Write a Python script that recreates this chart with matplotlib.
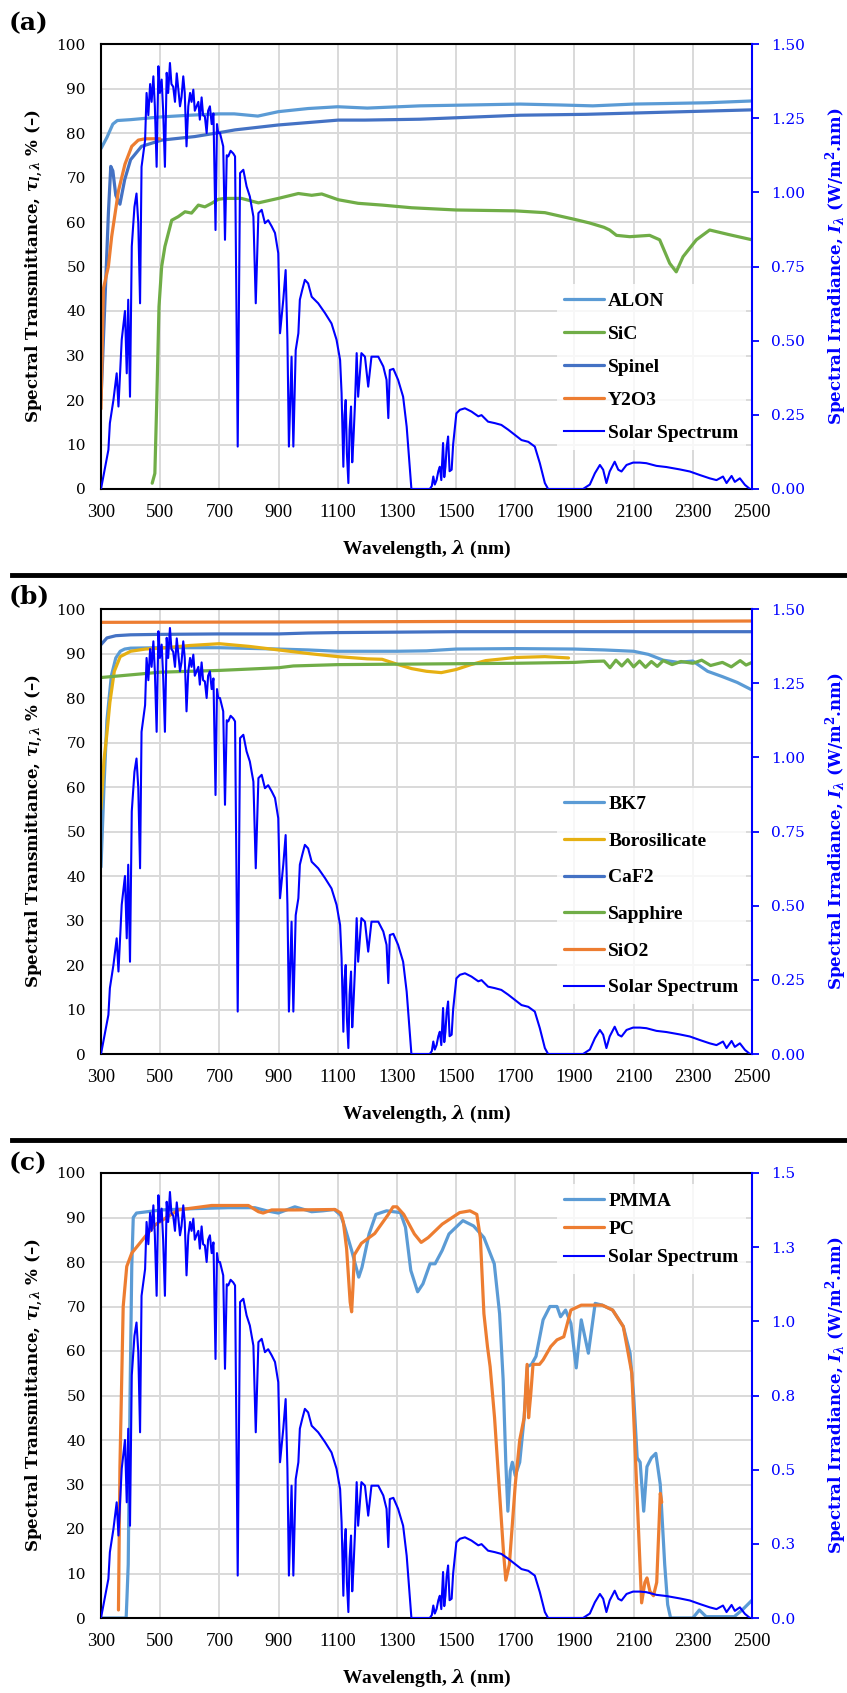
import math
import numpy as np
import matplotlib
matplotlib.use("Agg")
import matplotlib.pyplot as plt
from matplotlib.lines import Line2D
from matplotlib.ticker import FuncFormatter

plt.rcParams['mathtext.fontset'] = 'custom'
plt.rcParams['mathtext.rm'] = 'DejaVu Serif:bold'
plt.rcParams['mathtext.it'] = 'DejaVu Serif:italic:bold'
plt.rcParams['mathtext.bf'] = 'DejaVu Serif:bold'

# solar spectrum (nm, W/m2.nm)
solar_wl = [300, 325, 330, 342, 353, 359, 370, 381, 387, 392, 398, 404, 413, 420, 426, 432, 437, 449,
            454, 460, 466, 471, 477, 482, 488, 494, 499, 505, 510, 516, 522, 527, 533, 538, 544, 550,
            556, 561, 567, 572, 578, 583, 589, 595, 601, 606, 612, 617, 623, 629, 634,
            640, 645, 651, 657, 662, 668, 674, 680, 687, 692, 696, 702, 708, 713, 719, 725, 730, 738,
            747, 753, 762, 770, 781, 792, 803, 815,
            823, 832, 843, 854, 865, 877, 888, 899, 905, 916, 924, 930, 935, 944, 950, 958, 967, 972,
            980, 989, 1000, 1012, 1034, 1057, 1079, 1096, 1108, 1113, 1119, 1123, 1127, 1131, 1136, 1140,
            1145, 1149, 1153, 1158,
            1164, 1169, 1180, 1192, 1203, 1214, 1237, 1254, 1265, 1271, 1276, 1288, 1304, 1321, 1333,
            1338, 1349, 1411, 1418, 1423, 1428, 1434, 1440, 1445, 1450, 1456, 1460, 1464, 1468, 1473,
            1478, 1485, 1490, 1494, 1501, 1513, 1530, 1552,
            1575, 1586, 1608, 1631, 1653, 1676, 1699, 1721, 1744, 1766, 1783, 1800, 1811, 1929, 1952,
            1969, 1986, 1997, 2008, 2019, 2036, 2048, 2059, 2076, 2098, 2121, 2143, 2177, 2211, 2256,
            2290, 2324, 2357, 2380, 2402, 2414, 2431, 2442, 2459, 2476, 2493, 2500]
solar_irr = [0.0, 0.132, 0.222, 0.300, 0.390, 0.278, 0.503, 0.600, 0.390, 0.638, 0.311, 0.818, 0.951,
             0.996, 0.896, 0.626, 1.086, 1.176,
             1.335, 1.260, 1.365, 1.305, 1.391, 1.290, 1.086, 1.425, 1.335, 1.380, 1.275, 1.086, 1.403,
             1.335, 1.436, 1.365, 1.356, 1.305, 1.401, 1.350, 1.290, 1.320, 1.391, 1.335, 1.155, 1.290,
             1.335, 1.305, 1.346, 1.275, 1.290, 1.305, 1.245,
             1.320, 1.260, 1.256, 1.200, 1.275, 1.290, 1.230, 1.266, 0.873, 1.230, 1.200, 1.200, 1.176,
             1.155, 0.840, 1.125, 1.121, 1.140,
             1.131, 1.121, 0.143, 1.065, 1.076, 1.020,
             0.986, 0.918, 0.626, 0.930, 0.941, 0.896, 0.906, 0.885, 0.863, 0.795, 0.525, 0.638, 0.738,
             0.503, 0.143, 0.446, 0.143, 0.468, 0.525, 0.638, 0.671, 0.705, 0.693, 0.648, 0.626, 0.593,
             0.558, 0.503, 0.435, 0.323, 0.075, 0.250, 0.300, 0.120, 0.020, 0.200, 0.278, 0.090,
             0.165, 0.280,
             0.458, 0.311, 0.458, 0.446,
             0.345, 0.446, 0.446, 0.413, 0.368, 0.239, 0.401, 0.405, 0.368, 0.311, 0.210, 0.143, 0.0,
             0.0, 0.010, 0.042, 0.015, 0.030, 0.060, 0.075, 0.030, 0.155, 0.040, 0.075, 0.140, 0.177,
             0.060, 0.065, 0.150, 0.188, 0.255, 0.267, 0.272, 0.261,
             0.245, 0.249, 0.227, 0.222, 0.216, 0.200, 0.182, 0.165, 0.159, 0.143, 0.087, 0.020, 0.0,
             0.0, 0.015, 0.053, 0.081, 0.065, 0.020, 0.059, 0.092, 0.065, 0.059, 0.081, 0.089, 0.089,
             0.087, 0.078, 0.074, 0.066, 0.059, 0.047, 0.036, 0.030, 0.042, 0.020, 0.044, 0.024, 0.036,
             0.014, 0.0, 0.0]

# (a) ceramics
alon_wl = [300, 320, 340, 355, 400, 500, 600, 700, 750, 830, 900, 1000, 1100, 1200, 1378, 1550, 1716,
           1850, 1962, 2100, 2189, 2350, 2500]
alon_t = [76.5, 79, 82, 82.8, 83, 83.6, 84, 84.3, 84.3, 83.8, 84.8, 85.5, 85.9, 85.6, 86.1, 86.3, 86.5,
          86.3, 86.1, 86.5, 86.6, 86.8, 87.2]
sic_wl = [473, 482, 488, 496, 505, 516, 539, 561, 584, 606, 629, 651, 674, 696, 719, 775, 832, 899, 967,
          1012, 1046, 1102, 1169, 1250, 1350, 1500, 1600, 1700, 1800, 1900, 1950, 2000, 2019, 2042, 2087,
          2154, 2188, 2222, 2244, 2267, 2312, 2357, 2420, 2500]
sic_t = [1.3, 3.5, 18.5, 41, 50, 54.5, 60.4, 61.2, 62.3, 62, 63.8, 63.4, 64.2, 65.1, 65.3, 65.3, 64.3,
         65.3, 66.4, 66, 66.3, 65, 64.2, 63.8, 63.2, 62.7, 62.6, 62.5, 62.1, 60.6, 59.8, 58.8, 58.2, 57,
         56.7, 57, 56, 50.7, 48.8, 52.2, 56, 58.2, 57.2, 56]
spinel_wl = [300, 315, 325, 333, 340, 350, 364, 380, 400, 437, 505, 617, 719, 753, 899, 1102, 1192, 1378,
             1716, 1940, 2500]
spinel_t = [20, 45, 62, 72.5, 71.5, 66, 64, 69.5, 74, 77, 78.4, 79.2, 80.3, 80.7, 81.8, 82.9, 82.9, 83.1,
            84, 84.2, 85.2]
y2o3_wl = [300, 308, 325, 336, 359, 381, 404, 426, 449, 499]
y2o3_t = [18, 45, 50, 56.7, 67, 73, 77, 78.4, 78.7, 78.7]

# (b) glasses / crystals
bk7_wl = [300, 310, 320, 335, 350, 365, 380, 400, 500, 700, 900, 1000, 1100, 1300, 1400, 1500, 1700, 1900,
          2000, 2100, 2150, 2200, 2250, 2300, 2350, 2400, 2450, 2500]
bk7_t = [42, 60, 75, 85, 89, 90.5, 91, 91.2, 91.3, 91.3, 91.0, 90.8, 90.5, 90.5, 90.6, 91, 91.1, 91, 90.8,
         90.5, 89.8, 88.5, 88.0, 88.3, 86, 84.8, 83.5, 81.8]
boro_wl = [300, 310, 320, 330, 345, 365, 400, 450, 500, 600, 700, 800, 900, 1000, 1100, 1200, 1250, 1300,
           1350, 1400, 1450, 1500, 1550, 1600, 1700, 1800, 1880]
boro_t = [55, 66, 72, 79, 86, 89.3, 90.5, 91, 91.2, 91.8, 92.2, 91.6, 90.8, 90, 89.3, 88.8, 88.7, 87.6,
          86.6, 86, 85.7, 86.4, 87.5, 88.4, 89.1, 89.3, 89]
caf2_wl = [300, 320, 350, 400, 500, 700, 900, 1000, 1100, 1300, 1500, 2000, 2500]
caf2_t = [92, 93.5, 94, 94.2, 94.3, 94.4, 94.4, 94.6, 94.7, 94.8, 94.9, 94.9, 94.9]
sapph_wl = [300, 400, 500, 600, 700, 800, 900, 950, 1000, 1100, 1300, 1500, 1700, 1900, 1950, 2000, 2020,
            2040, 2060, 2080, 2100, 2120, 2140, 2160, 2180, 2200, 2230, 2260, 2300, 2330, 2360, 2400, 2430,
            2460, 2480, 2500]
sapph_t = [84.6, 85.2, 85.8, 86.0, 86.2, 86.5, 86.8, 87.2, 87.3, 87.5, 87.6, 87.7, 87.8, 88.0, 88.2, 88.3,
           86.8, 88.5, 87.2, 88.6, 87.0, 88.3, 86.9, 88.2, 87.1, 88.4, 87.5, 88.2, 87.8, 88.5, 87.3, 88.0,
           87.0, 88.4, 87.4, 88.0]
sio2_wl = [300, 1000, 1500, 2000, 2500]
sio2_t = [97.0, 97.1, 97.2, 97.2, 97.3]

# (c) polymers
pmma_wl = [300, 385, 388, 392, 398, 404, 409, 420, 505, 618, 730, 820, 860, 899, 955, 1012, 1050, 1088,
           1110, 1124, 1147, 1171, 1182, 1206, 1229, 1265, 1312, 1329, 1347, 1370, 1388, 1412, 1429, 1453,
           1476, 1523, 1559, 1594, 1629, 1647, 1659, 1668, 1675, 1683, 1690, 1700, 1715, 1730, 1741, 1755,
           1770, 1794, 1817, 1841, 1853, 1870, 1888, 1906, 1923, 1947, 1970, 1994, 2029, 2065, 2088, 2100,
           2112, 2122, 2134, 2145, 2160, 2175, 2190, 2205, 2215, 2225, 2300, 2322, 2345, 2440, 2470, 2500]
pmma_t = [0, 0, 5, 12, 49, 79, 90, 91, 91.7, 92, 92.2, 92.2, 91.5, 91, 92.4, 91.3, 91.5, 91.8, 90.5, 87.8,
          82.6, 76.6, 78.8, 86.3, 90.7, 91.5, 91.1, 87.8, 78.1, 73.3, 75.1, 79.6, 79.6, 82.6, 86.3, 89.3,
          88.1, 85.5, 79.6, 68.4, 53.6, 35, 24, 33, 35, 32, 35, 45, 56.5, 57, 58.8, 67, 70, 70, 67.7, 69.2,
          66.2, 56.2, 67, 59.5, 70.7, 70.3, 69.2, 65.5, 59.5, 50, 36, 35, 24, 34, 36, 37, 30, 12, 3, 0, 0,
          1.8, 0.3, 0.3, 2, 4]
pc_wl = [359, 364, 375, 387, 404, 449, 482, 561, 674, 798, 815, 832, 848, 877, 955, 1091, 1110, 1119,
         1130, 1136, 1142, 1147, 1152, 1156, 1180, 1225, 1270, 1287, 1300, 1323, 1359, 1382, 1406, 1453,
         1512, 1547, 1570, 1582, 1594, 1606, 1615, 1630, 1645, 1660, 1668, 1680, 1700, 1715, 1730, 1740,
         1745, 1752, 1760, 1782, 1794, 1820, 1841, 1864, 1888, 1923, 1994, 2029, 2065, 2094, 2110, 2127,
         2138, 2145, 2155, 2167, 2178, 2190, 2195]
pc_t = [1.8, 34, 70, 79, 82, 85.7, 88.3, 91.7, 92.7, 92.7, 92, 91.3, 91, 91.7, 91.7, 91.8, 91, 89, 83, 77,
        71, 68.8, 75, 81.6, 84.2, 86.4, 90.6, 92.4, 92.4, 90.7, 86.3, 84.4, 85.5, 88.5, 91.1, 91.5, 90.7,
        85.5, 68.4, 61, 56.5, 45, 30, 15, 8.5, 12, 30, 40, 45, 57, 45, 50, 57, 57, 58, 61, 62.5, 63.2,
        69.2, 70.3, 70.3, 69.2, 65.5, 55, 30, 3.4, 8, 9, 6, 5, 8, 28, 26]

LBLUE = '#5B9BD5'
DBLUE = '#4472C4'
GREEN = '#70AD47'
ORANGE = '#ED7D31'
GOLD = '#E6B012'
SOLAR = '#0000FF'

W, H = 847, 1693
fig = plt.figure(figsize=(W / 100, H / 100), dpi=100)


def half_up(v, _):
    return f"{math.floor(v * 10 + 0.5) / 10:.1f}"


def panel(top_px, series, leg_top, leg_space, right_fmt, tag, tag_y):
    left, right, bottom = 101, 752, top_px + 445
    ax = fig.add_axes([left / W, 1 - bottom / H, (right - left) / W, 445 / H])
    ax2 = ax.twinx()
    for name, wl, t, col in series:
        ax.plot(wl, t, color=col, lw=2.3, label=name, solid_capstyle='round')
    ax2.plot(solar_wl, solar_irr, color=SOLAR, lw=1.5, label='Solar Spectrum')

    ax.set_xlim(300, 2500)
    ax.set_ylim(0, 100)
    ax.set_xticks(np.arange(300, 2501, 200))
    ax.set_yticks(np.arange(0, 101, 10))
    ax.grid(color='#D9D9D9', lw=1.4)
    ax.set_axisbelow(True)
    ax.tick_params(axis='both', length=0)
    ax.tick_params(axis='y', pad=11, labelsize=11)
    ax.tick_params(axis='x', pad=11)
    for lab in ax.get_yticklabels():
        lab.set_fontfamily('DejaVu Serif')
    for lab in ax.get_xticklabels():
        lab.set_fontfamily('Liberation Serif')
        lab.set_fontsize(13.5)
    for s in ['left', 'top', 'bottom']:
        ax.spines[s].set_color('black')
        ax.spines[s].set_linewidth(1.5)
    ax.spines['right'].set_visible(False)

    ax2.set_ylim(0, 1.5)
    ax2.set_yticks(np.arange(0, 1.51, 0.25))
    ax2.yaxis.set_major_formatter(right_fmt)
    ax2.tick_params(axis='y', colors=SOLAR, length=5, width=1.3, pad=9, labelsize=11)
    for lab in ax2.get_yticklabels():
        lab.set_fontfamily('DejaVu Serif')
    for s in ['left', 'top', 'bottom']:
        ax2.spines[s].set_visible(False)
    ax2.spines['right'].set_color(SOLAR)
    ax2.spines['right'].set_linewidth(1.5)

    ax.set_xlabel(r'Wavelength, $\lambda$ (nm)', fontfamily='Liberation Serif', fontweight='bold',
                  fontsize=14)
    ax.xaxis.set_label_coords(0.5, -0.112)
    ax.set_ylabel(r'Spectral Transmittance, $\tau_{l,\lambda}$ % (–)', fontfamily='DejaVu Serif',
                  fontweight='bold', fontsize=12)
    ax.yaxis.set_label_coords(-0.085, 0.5)
    ax2.set_ylabel(r'Spectral Irradiance, $I_{\lambda}$ (W/m$^{2}$.nm)', fontfamily='DejaVu Serif',
                   fontweight='bold', fontsize=12, color=SOLAR)
    ax2.yaxis.set_label_coords(1.109, 0.5)

    h1, l1 = ax.get_legend_handles_labels()
    h2, l2 = ax2.get_legend_handles_labels()
    leg = ax2.legend(h1 + h2, l1 + l2, loc='upper left',
                     bbox_to_anchor=(0.685, (bottom - leg_top) / 445),
                     prop=dict(family='Liberation Serif', weight='bold', size=14),
                     handlelength=2.05, handletextpad=0.2, borderpad=0.4,
                     labelspacing=leg_space, frameon=True, fancybox=False)
    leg.get_frame().set_facecolor('white')
    leg.get_frame().set_edgecolor('none')
    leg.get_frame().set_alpha(0.8)

    fig.text(9 / W, 1 - tag_y / H, tag, fontfamily='DejaVu Serif', fontweight='bold',
             fontsize=18, va='center', ha='left')


panel(44, [('ALON', alon_wl, alon_t, LBLUE), ('SiC', sic_wl, sic_t, GREEN),
           ('Spinel', spinel_wl, spinel_t, DBLUE), ('Y2O3', y2o3_wl, y2o3_t, ORANGE)],
      274.5, 0.80, FuncFormatter(lambda v, _: f"{v:.2f}"), '(a)', 23)
panel(609, [('BK7', bk7_wl, bk7_t, LBLUE), ('Borosilicate', boro_wl, boro_t, GOLD),
            ('CaF2', caf2_wl, caf2_t, DBLUE), ('Sapphire', sapph_wl, sapph_t, GREEN),
            ('SiO2', sio2_wl, sio2_t, ORANGE)],
      778, 0.98, FuncFormatter(lambda v, _: f"{v:.2f}"), '(b)', 596)
panel(1173, [('PMMA', pmma_wl, pmma_t, LBLUE), ('PC', pc_wl, pc_t, ORANGE)],
      1174.5, 0.555, FuncFormatter(half_up), '(c)', 1163)

for ysep in [575, 1140]:
    fig.add_artist(Line2D([12 / W, 1], [1 - ysep / H, 1 - ysep / H], transform=fig.transFigure,
                          color='black', lw=3.5))

fig.savefig('out.png', dpi=100)
